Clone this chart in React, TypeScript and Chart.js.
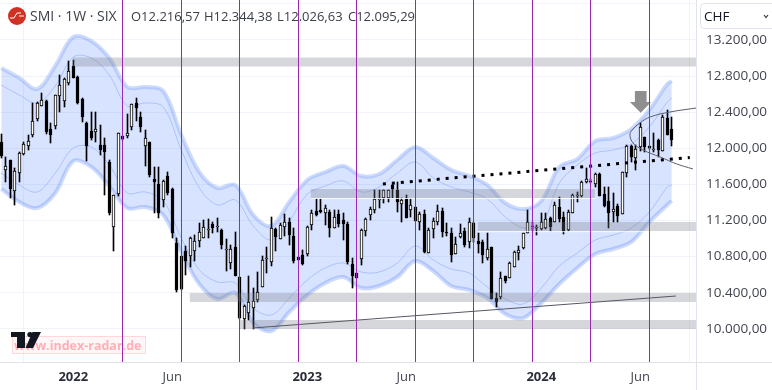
import { useEffect, useRef } from "react";
import { Chart, registerables } from "chart.js";

Chart.register(...registerables);

const opens = [
  12070,11759,11870,11527,11726,11937,12025,12147,12324,12469,
  12524,12214,12247,12579,12524,12723,12912,12790,12546,12280,
  12192,12180,12036,12036,11848,11128,11493,12136,12136,12236,
  12502,12347,12025,12070,11660,11604,11427,11693,11549,10951,
  10807,10862,10807,10862,10973,11006,11095,11161,11128,11095,
  10873,10729,10906,10574,10108,10175,10230,10319,10463,10773,
  10740,11106,10995,11128,11183,11028,10795,10818,10829,11150,
  11305,11316,11283,11294,11117,11272,11205,11161,10718,10618,
  10773,11084,11261,11316,11427,11449,11449,11593,11538,11383,
  11438,11316,11349,11183,11272,10840,11106,11183,11305,11072,
  11061,10829,11017,11084,10962,11172,10973,10962,10784,10906,
  10341,10352,10585,10563,10685,10840,10895,11061,11128,11117,
  11106,11117,11227,11183,11349,11239,11095,11283,11471,11471,
  11626,11638,11604,11715,11493,11416,11294,11361,11272,11726,
  12025,11892,12014,12125,12025,11981,12092,11970,12336,12216,
];
const closes = [
  11915,11804,11549,11748,11948,12047,12081,12302,12502,12535,
  12180,12147,12590,12701,12768,12856,12779,12502,12347,12025,
  12114,12214,11981,11959,11283,11482,12169,12103,12169,12491,
  12446,12236,12114,11704,11626,11283,11638,11505,11061,10430,
  10441,10751,11006,10973,11072,11128,11106,11117,11139,10928,
  10884,10884,10585,10119,10252,10297,10308,10408,10762,10784,
  11117,11017,11150,11183,11039,10751,10762,10718,11128,11283,
  11261,11294,11338,11117,11239,11161,11161,10740,10585,10563,
  11095,11216,11327,11438,11438,11538,11538,11549,11405,11427,
  11228,11372,11194,11272,10851,11095,11194,11305,11072,11061,
  10818,10939,11061,10928,11183,11006,10939,10818,10884,10330,
  10297,10563,10530,10729,10851,10873,11061,11183,11139,11128,
  11183,11216,11128,11372,11216,11084,11294,11482,11482,11626,
  11660,11626,11715,11471,11361,11283,11327,11250,11737,12025,
  11903,11992,12236,12014,12003,11992,11981,12347,12147,12095,
];
const highs = [
  12158,11903,11870,11782,11959,12070,12147,12502,12513,12613,
  12535,12280,12590,12812,12779,12967,12978,12801,12557,12291,
  12402,12402,12258,12114,11870,11482,12169,12136,12380,12491,
  12557,12402,12203,12070,11793,11793,11649,11737,11560,11006,
  10807,10917,11017,11039,11172,11205,11216,11183,11227,11106,
  10995,10928,11072,10574,10264,10585,10452,10629,10807,10906,
  11239,11117,11172,11272,11227,11117,10795,10873,11139,11316,
  11438,11438,11372,11316,11316,11316,11283,11183,10784,10618,
  11106,11227,11349,11538,11538,11538,11538,11604,11627,11449,
  11482,11438,11349,11294,11316,11117,11227,11372,11338,11172,
  11117,11017,11161,11117,11227,11183,11061,10984,11061,10906,
  10397,10629,10585,10740,10862,10917,11061,11316,11183,11150,
  11283,11283,11239,11405,11460,11294,11316,11493,11516,11638,
  11782,11660,11726,11726,11571,11571,11505,11383,11737,12036,
  12036,12036,12280,12125,12025,12169,12103,12369,12424,12344,
];
const lows = [
  11892,11626,11449,11372,11626,11926,11981,12125,12302,12469,
  12158,12059,12214,12402,12457,12701,12779,12491,12291,11859,
  12092,12070,11926,11482,11261,10862,11471,12092,12114,12203,
  12302,12180,11804,11682,11283,11228,11350,11482,11006,10408,
  10430,10596,10685,10751,10906,11006,11006,11061,11072,10884,
  10640,10663,10585,10108,9998,10097,9998,10297,10463,10618,
  10696,10862,10995,11028,10928,10729,10762,10707,10807,11095,
  11250,11283,11150,11017,11117,11128,10984,10718,10452,10563,
  10707,11028,11205,11283,11338,11394,11405,11449,11294,11183,
  11228,11239,11194,11095,10840,10840,11006,11150,11017,11028,
  10740,10829,11006,10906,10895,10962,10840,10729,10762,10330,
  10241,10330,10507,10563,10685,10762,10884,11061,11072,11039,
  11095,11106,11084,11183,11183,11050,11084,11283,11405,11460,
  11615,11615,11571,11471,11349,11117,11183,11183,11272,11682,
  11848,11759,11970,11959,11992,11959,11904,11970,12147,12026,
];

// Envelope, read every four weeks (last entry is week 149)
const bandWeeks = [
  0,4,8,12,16,20,24,28,32,36,40,44,48,52,56,60,64,68,72,76,
  80,84,88,92,96,100,104,108,112,116,120,124,128,132,136,140,144,148,149,
];
const upperOuter = [
  12890,12779,12657,12912,13233,13189,13000,12679,12679,12635,
  12147,11737,11560,11593,11261,11139,11405,11649,11737,11804,
  11693,11715,11870,12014,11892,11759,11693,11593,11394,11327,
  11416,11793,11881,12081,12114,12214,12424,12712,12745,
];
const upperInner = [
  12701,12590,12502,12690,13011,13000,12812,12469,12502,12457,
  11981,11560,11372,11427,11139,10984,11194,11493,11582,11638,
  11516,11571,11726,11848,11671,11571,11516,11438,11239,11117,
  11150,11615,11815,11948,11981,12047,12236,12513,12557,
];
const lowerInner = [
  11726,11593,11516,11726,12003,12014,11815,11505,11516,11416,
  11006,10651,10519,10507,10230,10153,10341,10541,10674,10729,
  10629,10629,10729,10917,10762,10662,10618,10463,10330,10275,
  10452,10696,10840,10984,11039,11117,11294,11571,11593,
];
const lowerOuter = [
  11549,11405,11338,11505,11859,11793,11582,11338,11349,11261,
  10851,10496,10330,10397,10064,9975,10186,10374,10507,10574,
  10452,10474,10574,10751,10640,10474,10430,10341,10164,10119,
  10286,10496,10674,10829,10884,10962,11183,11372,11416,
];

const zoneLevels = [12956, 11499, 11133, 10347, 10048];
const zoneStarts = [15.9, 68.8, 105.9, 41.9, 53];
const zoneEnds = [154.4, 131.9, 154.4, 154.4, 154.4];
const zoneEdgeLevels = [11443, 11076];
const zoneEdgeStarts = [68.8, 105.9];
const zoneEdgeEnds = [131.9, 154.4];

const cycleWeeks = [27, 40, 53, 66, 79, 92, 105, 118, 131, 144];

const supportWeeks = [55.9, 149.9];
const supportValues = [10009, 10363];
const dottedWeeks = [84.8, 153];
const dottedValues = [11604, 11898];
const arcWeeks = [154.4, 148.6, 144.2, 141.9, 140.2, 139.7, 140.4, 142.6, 146.4, 150.1, 153.7];
const arcValues = [12446, 12402, 12347, 12280, 12203, 12147, 12059, 11981, 11904, 11826, 11771];
const arrowWeeks = [140.8, 143.4, 143.4, 144.4, 142.1, 139.7, 140.8, 140.8];
const arrowValues = [12635, 12635, 12513, 12513, 12394, 12513, 12513, 12635];

const xTickWeeks = [16, 38, 68, 90, 120, 142];
const xTickLabels = ["2022", "Jun", "2023", "Jun", "2024", "Jun"];
const yTicks = [10000, 10400, 10800, 11200, 11600, 12000, 12400, 12800, 13200, 13600];

const headerFields = [
  ["O", "12.216,57"],
  ["H", "12.344,38"],
  ["L", "12.026,63"],
  ["C", "12.095,29"],
];

const FONT = '"Open Sans", sans-serif';
const fmtPrice = (v: number) =>
  v.toLocaleString("de-DE", { minimumFractionDigits: 2, maximumFractionDigits: 2 });

const snapPlugin = {
  id: "snap",
  afterDatasetsUpdate(chart: any) {
    chart.data.datasets.forEach((ds: any, idx: number) => {
      const meta = chart.getDatasetMeta(idx);
      if (ds.snapBars) {
        meta.data.forEach((el: any) => {
          el.x = Math.floor(el.x) + 0.5;
          el.y = Math.round(el.y);
          el.base = Math.round(el.base);
          if (Math.abs(el.base - el.y) < 1) el.base = el.y + 1;
          el.height = Math.abs(el.base - el.y);
        });
      }
      if (ds.snapX) {
        meta.data.forEach((el: any) => {
          el.x = Math.floor(el.x) + 0.5;
        });
      }
    });
  },
};

const underlayPlugin = {
  id: "underlay",
  beforeDatasetsDraw(chart: any) {
    const ctx = chart.ctx;
    ctx.save();
    // symbol badge
    ctx.fillStyle = "#cf3222";
    ctx.beginPath();
    ctx.arc(17, 16, 9, 0, Math.PI * 2);
    ctx.fill();
    ctx.strokeStyle = "#fff";
    ctx.lineWidth = 1;
    ctx.beginPath();
    ctx.moveTo(10, 18);
    ctx.lineTo(14, 18);
    ctx.lineTo(17, 13);
    ctx.lineTo(21, 13);
    ctx.moveTo(19, 16);
    ctx.lineTo(24, 16);
    ctx.stroke();

    // header
    ctx.textBaseline = "alphabetic";
    ctx.textAlign = "left";
    ctx.fillStyle = "#3a3e4a";
    ctx.font = `14px ${FONT}`;
    ctx.fillText("SMI · 1W · SIX", 30, 21);
    ctx.font = `13px ${FONT}`;
    const starts = [131, 204, 277, 348];
    headerFields.forEach(([k, v], i) => {
      ctx.fillText(k + v, starts[i], 20.5);
    });

    // watermark
    ctx.fillStyle = "rgba(255,205,210,0.18)";
    ctx.fillRect(12.5, 336.5, 133, 17);
    ctx.strokeStyle = "#ffd6d9";
    ctx.lineWidth = 1;
    ctx.strokeRect(12.5, 336.5, 133, 17);
    ctx.fillStyle = "#ffb0b6";
    ctx.font = `bold 12.5px ${FONT}`;
    ctx.fillText("www.index-radar.de", 14, 350);

    // TradingView mark
    ctx.fillStyle = "#131722";
    ctx.fillRect(11, 332, 14, 5);
    ctx.fillRect(17, 337, 8, 11);
    ctx.beginPath();
    ctx.arc(30, 334.6, 2.7, 0, Math.PI * 2);
    ctx.fill();
    ctx.beginPath();
    ctx.moveTo(32.5, 332);
    ctx.lineTo(41, 332);
    ctx.lineTo(33, 348);
    ctx.lineTo(25.5, 348);
    ctx.closePath();
    ctx.fill();
    ctx.restore();
  },
};

const overlayPlugin = {
  id: "overlay",
  afterDraw(chart: any) {
    const ctx = chart.ctx;
    const { right, bottom } = chart.chartArea;
    ctx.save();
    // axis lines reach the edges of the widget
    ctx.strokeStyle = "#e0e3eb";
    ctx.lineWidth = 1;
    ctx.beginPath();
    ctx.moveTo(Math.floor(right) + 0.5, 0);
    ctx.lineTo(Math.floor(right) + 0.5, 390);
    ctx.moveTo(0, Math.floor(bottom) + 0.5);
    ctx.lineTo(772, Math.floor(bottom) + 0.5);
    ctx.stroke();

    // currency box
    ctx.textBaseline = "alphabetic";
    ctx.textAlign = "left";
    ctx.strokeStyle = "#e0e3eb";
    ctx.beginPath();
    ctx.roundRect(700.5, 3.5, 80, 25, 4);
    ctx.stroke();
    ctx.fillStyle = "#131722";
    ctx.font = `13.5px ${FONT}`;
    ctx.fillText("CHF", 704, 21);
    ctx.strokeStyle = "#333844";
    ctx.lineWidth = 1.2;
    ctx.beginPath();
    ctx.moveTo(764, 15);
    ctx.lineTo(766, 17.5);
    ctx.lineTo(768, 15);
    ctx.stroke();
    ctx.restore();
  },
};

export default function App() {
  const ref = useRef<HTMLCanvasElement | null>(null);

  useEffect(() => {
    const weeks = opens.map((_, i) => i);
    const bandData = (values: number[]) => values.map((y, i) => ({ x: bandWeeks[i], y }));
    const lineStyle = { type: "line", pointRadius: 0, pointHitRadius: 0, fill: false };

    const datasets: any[] = [
      {
        ...lineStyle, label: "Upper envelope", data: bandData(upperOuter), order: 100,
        borderColor: "rgba(125,160,245,0.38)", borderWidth: 4, tension: 0.35,
        fill: { target: 3 }, backgroundColor: "rgba(41,98,255,0.18)",
      },
      { ...lineStyle, label: "Upper inner", data: bandData(upperInner), order: 90, borderColor: "#abc1f6", borderWidth: 1, tension: 0.35 },
      { ...lineStyle, label: "Lower inner", data: bandData(lowerInner), order: 90, borderColor: "#abc1f6", borderWidth: 1, tension: 0.35 },
      {
        ...lineStyle, label: "Lower envelope", data: bandData(lowerOuter), order: 100,
        borderColor: "rgba(125,160,245,0.38)", borderWidth: 4, tension: 0.35,
      },
      {
        type: "bar", label: "Wicks", grouped: false, snapBars: true, order: 50, barThickness: 1,
        data: weeks.map((x) => ({ x, y: [lows[x], highs[x]] })),
        backgroundColor: "#000", borderWidth: 0,
      },
      {
        type: "bar", label: "Bodies", grouped: false, snapBars: true, order: 40, barThickness: 3,
        data: weeks.map((x) => ({ x, y: [opens[x], closes[x]] })),
        backgroundColor: weeks.map((i) => (closes[i] >= opens[i] ? "#fff" : "#000")),
        borderColor: "#000", borderWidth: 1, borderSkipped: false,
      },
      ...zoneLevels.map((y, i) => ({
        ...lineStyle, label: `Zone ${i + 1}`, order: 30,
        data: [{ x: zoneStarts[i], y }, { x: zoneEnds[i], y }],
        borderColor: "rgba(120,123,134,0.3)", borderWidth: 9, borderCapStyle: "butt",
      })),
      ...zoneEdgeLevels.map((y, i) => ({
        ...lineStyle, label: `Zone edge ${i + 1}`, order: 29,
        data: [{ x: zoneEdgeStarts[i], y }, { x: zoneEdgeEnds[i], y }],
        borderColor: "rgba(255,255,255,0.85)", borderWidth: 1, borderCapStyle: "butt",
      })),
      {
        ...lineStyle, label: "Support", order: 20,
        data: supportWeeks.map((x, i) => ({ x, y: supportValues[i] })),
        borderColor: "#555862", borderWidth: 1,
      },
      {
        ...lineStyle, label: "Dotted trend", order: 20,
        data: dottedWeeks.map((x, i) => ({ x, y: dottedValues[i] })),
        borderColor: "#000", borderWidth: 3, borderDash: [3, 6],
      },
      {
        ...lineStyle, label: "Arc", order: 20, tension: 0.4,
        data: arcWeeks.map((x, i) => ({ x, y: arcValues[i] })),
        borderColor: "#5d606b", borderWidth: 1,
      },
      {
        ...lineStyle, label: "Arrow", order: 15, fill: "shape",
        data: arrowWeeks.map((x, i) => ({ x, y: arrowValues[i] })),
        backgroundColor: "#8f8f8f", borderColor: "#8f8f8f", borderWidth: 0,
      },
      ...cycleWeeks.map((x, i) => ({
        ...lineStyle, label: `Cycle ${i + 1}`, order: 10, snapX: true,
        data: [{ x, y: 13643 }, { x, y: 9632 }],
        borderColor: "#9c27b0", borderWidth: 1,
      })),
    ];

    const chart = new Chart(ref.current as HTMLCanvasElement, {
      type: "bar",
      data: { datasets },
      plugins: [snapPlugin, underlayPlugin, overlayPlugin],
      options: {
        animation: false,
        responsive: false,
        events: [],
        layout: { padding: 0 },
        plugins: { legend: { display: false }, tooltip: { enabled: false } },
        scales: {
          x: {
            type: "linear",
            min: -0.289,
            max: 154.38,
            offset: false,
            grid: { color: "#f0f3fa", drawTicks: false },
            border: { display: false },
            afterBuildTicks: (s: any) => {
              s.ticks = xTickWeeks.map((value) => ({ value }));
            },
            afterFit: (s: any) => {
              s.height = 28;
              s.paddingLeft = 0;
              s.paddingRight = 0;
            },
            ticks: {
              autoSkip: false,
              maxRotation: 0,
              padding: 7,
              color: (c: any) => (xTickLabels[c.index] === "Jun" ? "#434651" : "#2a2e39"),
              font: (c: any) => ({
                family: FONT,
                size: 13,
                weight: xTickLabels[c.index] === "Jun" ? "normal" : "bold",
              }),
              callback: (_v: any, i: number) => xTickLabels[i],
            },
          },
          y: {
            type: "linear",
            position: "right",
            min: 9632,
            max: 13643,
            grid: { color: "#f0f3fa", drawTicks: false },
            border: { display: false },
            afterBuildTicks: (s: any) => {
              s.ticks = yTicks.map((value) => ({ value }));
            },
            afterFit: (s: any) => {
              s.width = 76;
              s.paddingTop = 0;
              s.paddingBottom = 0;
            },
            ticks: {
              padding: 10,
              color: "#434651",
              font: { family: FONT, size: 13.5 },
              callback: (v: any) => (v > 13200 ? "" : fmtPrice(Number(v))),
            },
          },
        },
      } as any,
    } as any);
    return () => chart.destroy();
  }, []);

  return (
    <div style={{ position: "fixed", left: 0, top: 0, width: 772, height: 390, background: "#fff" }}>
      <canvas ref={ref} width={772} height={390} style={{ display: "block" }} />
    </div>
  );
}
